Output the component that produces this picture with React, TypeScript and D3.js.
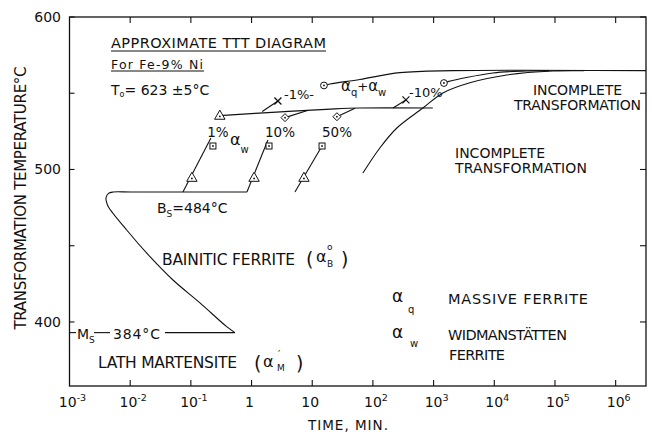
import React from "react";
import * as d3 from "d3";

const W = 652;
const H = 437;
const xDomain: [number, number] = [1e-3, Math.pow(10, 6.5)];
const yDomain: [number, number] = [358, 600];

const xTickValues = [1e-3, 1e-2, 1e-1, 1, 10, 100, 1e3, 1e4, 1e5, 1e6];
const xTickBase = ["10", "10", "10", "1", "10", "10", "10", "10", "10", "10"];
const xTickExp = ["-3", "-2", "-1", "", "", "2", "3", "4", "5", "6"];
const yTickValues = [400, 450, 500, 550, 600];
const yTickLabels = [400, 500, 600];

// bainite C-curve with Bs nose (time min, temp C)
const bainiteCurve = [
  [0.84, 485.2], [0.1, 485.2], [0.01, 485.2], [0.00521, 485.2], [0.00439, 484.3],
  [0.00399, 481.3], [0.00407, 478.7], [0.00436, 475.6], [0.00876, 460.3],
  [0.0212, 442.8], [0.0507, 427.5], [0.1412, 412.5], [0.389, 396.9], [0.533, 393],
];
const msLine = [[0.0374, 393], [0.533, 393]];

// alpha_w start lines (1%, 10%, 50%)
const start1 = [[0.074, 485.2], [0.214, 520.7]];
const start10 = [[0.84, 485.2], [1.86, 519.3]];
const start50 = [[5.19, 485.2], [14.5, 515.4]];

// upper alpha_w line at ~540 C
const main540 = [[0.3, 535.3], [3, 537.8], [20, 539.6], [60, 540.3], [973, 540.3]];
const diam10Line = [[3.56, 534], [8.6, 538.9]];
const diam50Line = [[25.5, 534.6], [50.6, 540.2]];

// alpha_q + alpha_w curves
const q1Low = [[1.5, 538], [2.72, 544.9]];
const q1High = [[15.6, 555.1], [19.6, 556.1], [61, 559], [279, 563.5], [2080, 564.8], [Math.pow(10, 6.5), 564.8]];
const q10Low = [[214, 540.3], [350, 545.6]];
const q10High = [[1480, 556.7], [1720, 557.6], [9460, 563.3], [34400, 564.6], [80000, 564.8]];

// incomplete transformation boundary
const bigCurve = [
  [68.4, 497.7], [130, 514.1], [248, 527.2], [666, 540.3], [1422, 550.2],
  [3960, 556.9], [16100, 562], [92300, 564.6], [300000, 564.8],
];

// markers
const triangles = [[0.104, 494.6], [0.3, 535.3], [1.1, 494.6], [7.3, 494.6]];
const squares = [[0.231, 515.4], [1.94, 515.4], [14.5, 515.4]];
const diamonds = [[3.56, 534], [25.5, 534.6]];
const crosses = [[2.72, 544.9], [350, 545.6]];
const circles = [[15.6, 555.1], [1480, 556.7]];

const FONT = "'DejaVu Sans', sans-serif";

export default function App() {
  const x = d3.scaleLog().domain(xDomain).range([69.5, 646]);
  const y = d3.scaleLinear().domain(yDomain).range([386, 17]);
  const straight = d3.line<number[]>().x((d) => x(d[0])).y((d) => y(d[1]));
  const smooth = d3
    .line<number[]>()
    .x((d) => x(d[0]))
    .y((d) => y(d[1]))
    .curve(d3.curveCatmullRom.alpha(0.5));

  const stroke = { fill: "none", stroke: "#111", strokeWidth: 1.1 };
  const mstroke = { fill: "#fff", stroke: "#111", strokeWidth: 1 };
  const txt = { fontFamily: FONT, fill: "#111" } as const;

  const x0 = x(xDomain[0]);
  const x1 = x(xDomain[1]);
  const yb = y(yDomain[0]);
  const yt = y(yDomain[1]);

  return (
    <svg
      width={W}
      height={H}
      style={{ position: "absolute", left: 0, top: 0, background: "#fff" }}
    >
      <rect x={0} y={0} width={W} height={H} fill="#fff" />
      {/* frame */}
      <rect x={x0} y={yt} width={x1 - x0} height={yb - yt} fill="none" stroke="#111" strokeWidth={1.3} />

      {/* x ticks */}
      {xTickValues.slice(1).map((v, i) => (
        <g key={"xt" + i}>
          <line x1={x(v)} x2={x(v)} y1={yb} y2={yb - 6} stroke="#111" strokeWidth={1.1} />
          <line x1={x(v)} x2={x(v)} y1={yt} y2={yt + 6} stroke="#111" strokeWidth={1.1} />
        </g>
      ))}
      {xTickValues.map((v, i) => (
        <text
          key={"xl" + i}
          x={x(v) + (xTickExp[i] ? 3 : -2)}
          y={406.5}
          textAnchor="middle"
          fontSize={14}
          {...txt}
        >
          {xTickBase[i]}
          {xTickExp[i] && (
            <tspan fontSize={9.5} dy={-6}>
              {xTickExp[i]}
            </tspan>
          )}
        </text>
      ))}

      {/* y ticks */}
      {yTickValues.map((v, i) => (
        <g key={"yt" + i}>
          <line x1={x0} x2={x0 + 5} y1={y(v)} y2={y(v)} stroke="#111" strokeWidth={1.1} />
          <line x1={x1} x2={x1 - 6} y1={y(v)} y2={y(v)} stroke="#111" strokeWidth={1.1} />
        </g>
      ))}
      {yTickLabels.map((v, i) => (
        <text key={"yl" + i} x={61} y={y(v) + 5} textAnchor="end" fontSize={14} {...txt}>
          {v}
        </text>
      ))}

      {/* axis titles */}
      <text
        transform="translate(26,198) rotate(-90)"
        textAnchor="middle"
        fontSize={15}
        textLength={263}
        lengthAdjust="spacing"
        {...txt}
      >
        TRANSFORMATION TEMPERATURE°C
      </text>
      <text x={308} y={430} fontSize={13.5} textLength={80} lengthAdjust="spacing" {...txt}>
        TIME, MIN.
      </text>

      {/* curves */}
      <path d={smooth(bainiteCurve) || ""} {...stroke} />
      <path d={straight(msLine) || ""} {...stroke} />
      <line x1={x0} x2={76} y1={y(393)} y2={y(393)} stroke="#111" strokeWidth={1.1} />
      <line x1={94} x2={110} y1={y(393)} y2={y(393)} stroke="#111" strokeWidth={1.1} />

      <path d={straight(start1) || ""} {...stroke} />
      <path d={straight(start10) || ""} {...stroke} />
      <path d={straight(start50) || ""} {...stroke} />
      <path d={smooth(main540) || ""} {...stroke} />
      <path d={straight(diam10Line) || ""} {...stroke} />
      <path d={straight(diam50Line) || ""} {...stroke} />
      <path d={straight(q1Low) || ""} {...stroke} />
      <path d={smooth(q1High) || ""} {...stroke} />
      <path d={straight(q10Low) || ""} {...stroke} />
      <path d={smooth(q10High) || ""} {...stroke} />
      <path d={smooth(bigCurve) || ""} {...stroke} />

      {/* markers */}
      {triangles.map((d, i) => {
        const cx = x(d[0]);
        const cy = y(d[1]);
        return (
          <g key={"tr" + i}>
            <path d={`M${cx},${cy - 5.5}L${cx + 5.2},${cy + 3.6}L${cx - 5.2},${cy + 3.6}Z`} {...mstroke} />
            <circle cx={cx} cy={cy + 0.8} r={0.9} fill="#111" />
          </g>
        );
      })}
      {squares.map((d, i) => {
        const cx = x(d[0]);
        const cy = y(d[1]);
        return (
          <g key={"sq" + i}>
            <rect x={cx - 3} y={cy - 3} width={6} height={6} {...mstroke} />
            <circle cx={cx} cy={cy} r={0.9} fill="#111" />
          </g>
        );
      })}
      {diamonds.map((d, i) => {
        const cx = x(d[0]);
        const cy = y(d[1]);
        return (
          <g key={"di" + i}>
            <path d={`M${cx},${cy - 4}L${cx + 4},${cy}L${cx},${cy + 4}L${cx - 4},${cy}Z`} {...mstroke} />
            <circle cx={cx} cy={cy} r={0.9} fill="#111" />
          </g>
        );
      })}
      {crosses.map((d, i) => {
        const cx = x(d[0]);
        const cy = y(d[1]);
        return (
          <path
            key={"cr" + i}
            d={`M${cx - 3.5},${cy - 3.5}L${cx + 3.5},${cy + 3.5}M${cx - 3.5},${cy + 3.5}L${cx + 3.5},${cy - 3.5}`}
            stroke="#111"
            strokeWidth={1.2}
          />
        );
      })}
      {circles.map((d, i) => {
        const cx = x(d[0]);
        const cy = y(d[1]);
        return (
          <g key={"ci" + i}>
            <circle cx={cx} cy={cy} r={3.4} {...mstroke} />
            <circle cx={cx} cy={cy} r={0.9} fill="#111" />
          </g>
        );
      })}

      {/* title block */}
      <text x={111} y={48} fontSize={14.5} textLength={215} lengthAdjust="spacing" {...txt}>
        APPROXIMATE TTT DIAGRAM
      </text>
      <line x1={111} x2={326} y1={51} y2={51} stroke="#111" strokeWidth={1.1} />
      <text x={111} y={68.5} fontSize={12.5} textLength={92} lengthAdjust="spacing" {...txt}>
        For Fe-9% Ni
      </text>
      <line x1={111} x2={204} y1={71} y2={71} stroke="#111" strokeWidth={1.1} />
      <text x={111} y={95} fontSize={14} {...txt}>
        T<tspan fontSize={8} dy={2}>o</tspan>
        <tspan dy={-2}>= 623 ±5°C</tspan>
      </text>

      {/* percentage labels */}
      <text x={218} y={137} textAnchor="middle" fontSize={13.5} {...txt}>1%</text>
      <text x={280} y={137} textAnchor="middle" fontSize={13.5} {...txt}>10%</text>
      <text x={337} y={137} textAnchor="middle" fontSize={13.5} {...txt}>50%</text>
      <text x={230} y={145} fontSize={16} {...txt}>
        α<tspan fontSize={10} dy={8}>w</tspan>
      </text>
      <text x={284} y={99} fontSize={13} {...txt}>-1%-</text>
      <text x={409} y={97} fontSize={13} {...txt}>-10%</text>
      <text x={341} y={91} fontSize={15} {...txt}>
        α<tspan fontSize={10} dy={5}>q</tspan>
        <tspan dy={-5} fontSize={13}>+</tspan>
        <tspan fontSize={15}>α</tspan>
        <tspan fontSize={10} dy={5}>w</tspan>
      </text>

      {/* incomplete transformation labels */}
      <text x={533} y={95} fontSize={14} textLength={89} lengthAdjust="spacing" {...txt}>
        INCOMPLETE
      </text>
      <text x={514} y={110} fontSize={14} textLength={127} lengthAdjust="spacing" {...txt}>
        TRANSFORMATION
      </text>
      <text x={455} y={158} fontSize={14} textLength={90} lengthAdjust="spacing" {...txt}>
        INCOMPLETE
      </text>
      <text x={455} y={173} fontSize={14} textLength={132} lengthAdjust="spacing" {...txt}>
        TRANSFORMATION
      </text>

      {/* Bs label */}
      <text x={157} y={213} fontSize={14} {...txt}>
        B<tspan fontSize={9} dy={4}>S</tspan>
        <tspan dy={-4}>=484°C</tspan>
      </text>

      {/* bainitic ferrite */}
      <text x={162} y={265} fontSize={15.5} textLength={133} lengthAdjust="spacing" {...txt}>
        BAINITIC FERRITE
      </text>
      <text x={306} y={266} fontSize={19} {...txt}>(</text>
      <text x={316} y={262} fontSize={16} {...txt}>α</text>
      <text x={327} y={250} fontSize={9} {...txt}>o</text>
      <text x={327} y={267} fontSize={9} {...txt}>B</text>
      <text x={341} y={266} fontSize={19} {...txt}>)</text>

      {/* Ms label */}
      <text x={77} y={338.5} fontSize={14} {...txt}>
        M<tspan fontSize={9} dy={4}>S</tspan>
      </text>
      <text x={113} y={338.5} fontSize={14} textLength={47} lengthAdjust="spacing" {...txt}>
        384°C
      </text>

      {/* lath martensite */}
      <text x={98} y={368} fontSize={15.5} textLength={139} lengthAdjust="spacing" {...txt}>
        LATH MARTENSITE
      </text>
      <text x={254} y={370} fontSize={19} {...txt}>(</text>
      <text x={263} y={367} fontSize={16} {...txt}>α</text>
      <text x={278} y={358} fontSize={10} {...txt}>′</text>
      <text x={277} y={371} fontSize={9} {...txt}>M</text>
      <text x={296} y={370} fontSize={19} {...txt}>)</text>

      {/* legend */}
      <text x={392} y={302} fontSize={17} {...txt}>α</text>
      <text x={408} y={313} fontSize={10} {...txt}>q</text>
      <text x={448} y={304} fontSize={14.5} textLength={140} lengthAdjust="spacing" {...txt}>
        MASSIVE FERRITE
      </text>
      <text x={392} y={338} fontSize={17} {...txt}>α</text>
      <text x={410} y={347} fontSize={10} {...txt}>w</text>
      <text x={448} y={340} fontSize={14.5} textLength={119} lengthAdjust="spacing" {...txt}>
        WIDMANSTÄTTEN
      </text>
      <text x={449} y={360} fontSize={14.5} textLength={56} lengthAdjust="spacing" {...txt}>
        FERRITE
      </text>
    </svg>
  );
}
